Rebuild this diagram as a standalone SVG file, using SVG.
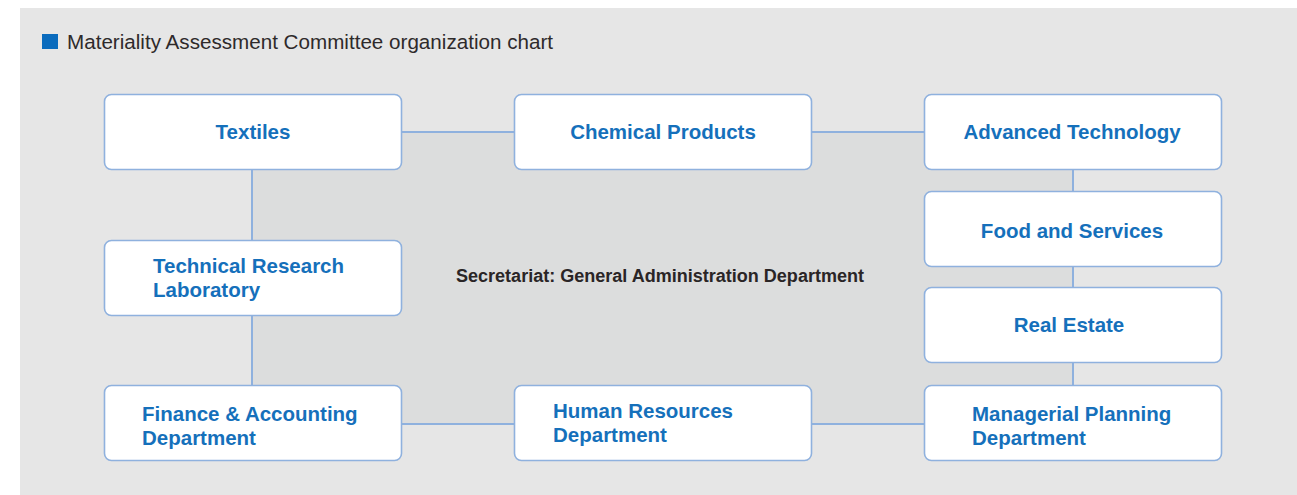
<svg xmlns="http://www.w3.org/2000/svg" width="1297" height="495" viewBox="0 0 1297 495">
<style>
.node rect{fill:#ffffff;stroke:#8fb1de;stroke-width:1.6}
.lbl{font-family:"Liberation Sans",Arial,sans-serif;font-weight:bold;font-size:20.5px;fill:#1570bb}
.c{text-anchor:middle}
.conn line{stroke:#8fb1de;stroke-width:2}
</style>
<rect x="20" y="8" width="1277" height="487" fill="#e6e6e6"/>
<rect x="252" y="132" width="821" height="292" fill="#dcdddd"/>
<g id="title">
<rect x="42" y="34" width="16" height="15" fill="#0a6bbd"/>
<text x="67" y="49" font-family="'Liberation Sans',Arial,sans-serif" font-size="20.5" fill="#2e2a2b" textLength="486" lengthAdjust="spacingAndGlyphs">Materiality Assessment Committee organization chart</text>
</g>
<g id="connectors" class="conn">
<line x1="401" y1="132" x2="514" y2="132"/>
<line x1="811" y1="132" x2="924" y2="132"/>
<line x1="252" y1="169" x2="252" y2="240"/>
<line x1="252" y1="315" x2="252" y2="385"/>
<line x1="1073" y1="169" x2="1073" y2="191"/>
<line x1="1073" y1="266" x2="1073" y2="287"/>
<line x1="1073" y1="362" x2="1073" y2="385"/>
<line x1="401" y1="424" x2="514" y2="424"/>
<line x1="811" y1="424" x2="924" y2="424"/>
</g>
<g id="textiles" class="node">
<rect x="104.5" y="94.5" width="297" height="75" rx="7"/>
<text class="lbl c" x="253" y="139">Textiles</text>
</g>
<g id="chemical" class="node">
<rect x="514.5" y="94.5" width="297" height="75" rx="7"/>
<text class="lbl c" x="663" y="139">Chemical Products</text>
</g>
<g id="advanced" class="node">
<rect x="924.5" y="94.5" width="297" height="75" rx="7"/>
<text class="lbl c" x="1072" y="139">Advanced Technology</text>
</g>
<g id="food" class="node">
<rect x="924.5" y="191.5" width="297" height="75" rx="7"/>
<text class="lbl c" x="1072" y="238">Food and Services</text>
</g>
<g id="realestate" class="node">
<rect x="924.5" y="287.5" width="297" height="75" rx="7"/>
<text class="lbl c" x="1069" y="332">Real Estate</text>
</g>
<g id="techlab" class="node">
<rect x="104.5" y="240.5" width="297" height="75" rx="7"/>
<text class="lbl" x="153" y="273">Technical Research</text>
<text class="lbl" x="153" y="297">Laboratory</text>
</g>
<g id="finance" class="node">
<rect x="104.5" y="385.5" width="297" height="75" rx="7"/>
<text class="lbl" x="142" y="421">Finance &amp; Accounting</text>
<text class="lbl" x="142" y="445">Department</text>
</g>
<g id="hr" class="node">
<rect x="514.5" y="385.5" width="297" height="75" rx="7"/>
<text class="lbl" x="553" y="418">Human Resources</text>
<text class="lbl" x="553" y="442">Department</text>
</g>
<g id="planning" class="node">
<rect x="924.5" y="385.5" width="297" height="75" rx="7"/>
<text class="lbl" x="972" y="421">Managerial Planning</text>
<text class="lbl" x="972" y="445">Department</text>
</g>
<g id="secretariat">
<text x="456" y="282" font-family="'Liberation Sans',Arial,sans-serif" font-weight="bold" font-size="17.5" fill="#2a2526" textLength="408" lengthAdjust="spacingAndGlyphs">Secretariat: General Administration Department</text>
</g>
</svg>
